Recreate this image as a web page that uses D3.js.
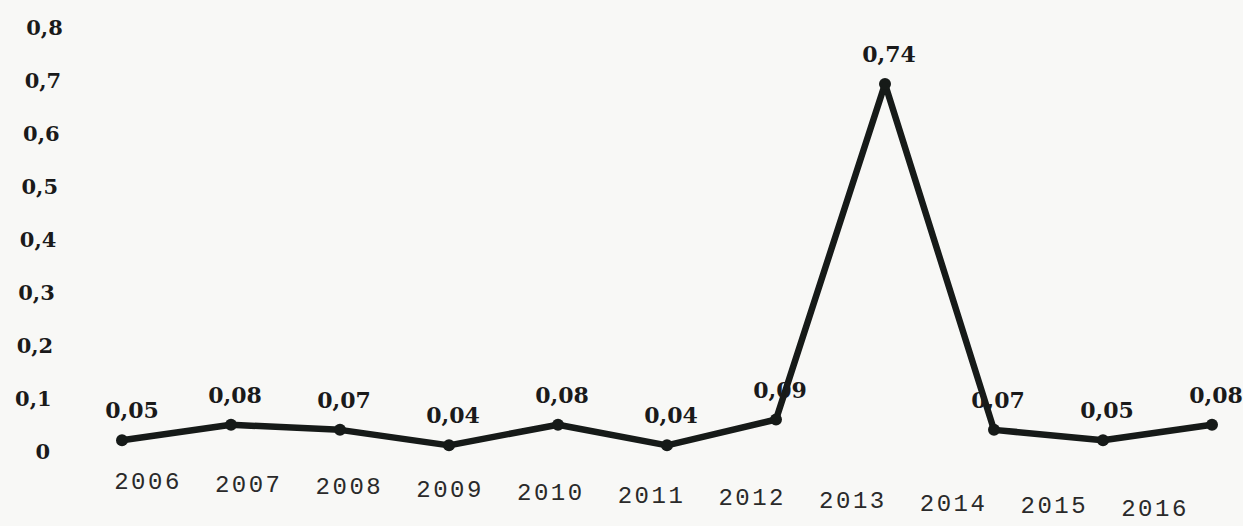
<!DOCTYPE html>
<html><head><meta charset="utf-8">
<script src="https://cdn.jsdelivr.net/npm/d3@7"></script>
<style>
html,body{margin:0;padding:0;background:#f8f8f6;}
svg{display:block;}
</style></head>
<body>
<script>
const years = ["2006","2007","2008","2009","2010","2011","2012","2013","2014","2015","2016"];
const values = [0.05,0.08,0.07,0.04,0.08,0.04,0.09,0.74,0.07,0.05,0.08];
const valueLabels = ["0,05","0,08","0,07","0,04","0,08","0,04","0,09","0,74","0,07","0,05","0,08"];
const yTicks = [0,0.1,0.2,0.3,0.4,0.5,0.6,0.7,0.8];
const yTickLabels = ["0","0,1","0,2","0,3","0,4","0,5","0,6","0,7","0,8"];

const W = 1243, H = 526;
const svg = d3.select("body").append("svg").attr("width", W).attr("height", H);
svg.append("rect").attr("width", W).attr("height", H).attr("fill", "#f8f8f6");

// scales
const x = d3.scalePoint().domain(years).range([122, 1212]);
const xLab = d3.scalePoint().domain(years).range([148, 1155]);
const xLabY = d3.scalePoint().domain(years).range([489, 516]);
const y = d3.scaleLinear().domain([0, 0.8]).range([466, 53]);
const yAxisScale = d3.scaleLinear().domain([0, 0.8]).range([452, 28]);

// y tick labels
svg.append("g").selectAll("text").data(yTicks).join("text")
  .attr("x", (d,i) => 50 + i * 1.6)
  .attr("y", d => yAxisScale(d))
  .attr("dy", "0.35em")
  .attr("text-anchor", "end")
  .attr("font-family", "DejaVu Serif")
  .attr("font-weight", "bold")
  .attr("font-size", 21)
  .attr("fill", "#1a1a1a")
  .text((d,i) => yTickLabels[i]);

// x labels
svg.append("g").selectAll("text").data(years).join("text")
  .attr("x", d => xLab(d))
  .attr("y", d => xLabY(d))
  .attr("text-anchor", "middle")
  .attr("font-family", "Liberation Mono")
  .attr("font-size", 24)
  .attr("letter-spacing", 2.5)
  .attr("fill", "#2a2a2a")
  .text(d => d);

// line
const line = d3.line().x((d,i) => x(years[i])).y(d => y(d));
svg.append("path").datum(values)
  .attr("d", line)
  .attr("fill", "none")
  .attr("stroke", "#161a18")
  .attr("stroke-width", 6.5)
  .attr("stroke-linejoin", "round")
  .attr("stroke-linecap", "round");

// markers
svg.append("g").selectAll("circle").data(values).join("circle")
  .attr("cx", (d,i) => x(years[i]))
  .attr("cy", d => y(d))
  .attr("r", 6)
  .attr("fill", "#161a18");

// value labels
svg.append("g").selectAll("text").data(values).join("text")
  .attr("x", (d,i) => x(years[i]) + (i === 0 ? 10 : 4))
  .attr("y", d => y(d) - 22)
  .attr("text-anchor", "middle")
  .attr("font-family", "DejaVu Serif")
  .attr("font-weight", "bold")
  .attr("font-size", 22)
  .attr("fill", "#1a1a1a")
  .text((d,i) => valueLabels[i]);
</script>
</body></html>
